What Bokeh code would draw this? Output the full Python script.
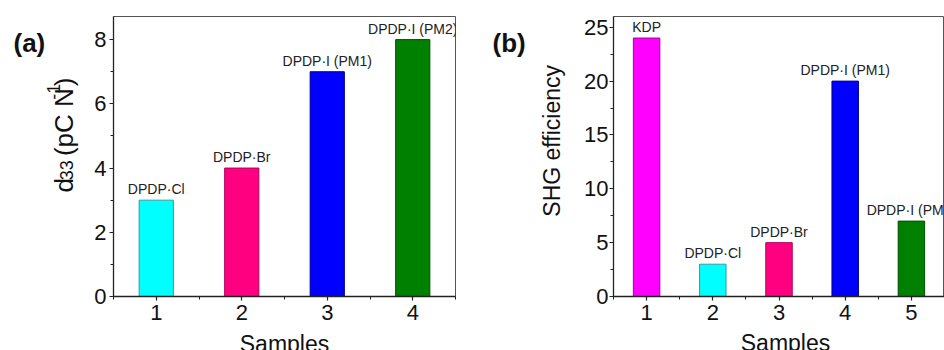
from math import pi

from bokeh.core.properties import value
from bokeh.embed import file_html
from bokeh.layouts import column, row
from bokeh.models import ColumnDataSource, FixedTicker, Label, Range1d
from bokeh.plotting import figure
from bokeh.resources import INLINE

# ---- data -------------------------------------------------------------
# (a) piezoelectric coefficient d33 of each sample
samples_a = [1, 2, 3, 4]
d33_values = [3, 4, 7, 8]
names_a = ["DPDP·Cl", "DPDP·Br", "DPDP·I (PM1)", "DPDP·I (PM2)"]

# (b) SHG efficiency, with KDP as the reference crystal
samples_b = [1, 2, 3, 4, 5]
shg_values = [24, 3, 5, 20, 7]
names_b = ["KDP", "DPDP·Cl", "DPDP·Br", "DPDP·I (PM1)", "DPDP·I (PM2)"]

x_ticks_a = [1, 2, 3, 4]
y_ticks_a = [0, 2, 4, 6, 8]
x_ticks_b = [1, 2, 3, 4, 5]
y_ticks_b = [0, 5, 10, 15, 20, 25]

# ---- styles -----------------------------------------------------------
FONT = "Liberation Sans"
INK = "#111111"
CYAN, PINK, BLUE, GREEN, MAGENTA = "#00FFFF", "#FF0080", "#0000FF", "#008000", "#FF00FF"
EDGE = {CYAN: "#2F9E9E", PINK: "#B0005C", BLUE: "#00008C", GREEN: "#004F00", MAGENTA: "#A000A0"}
fills_a = [CYAN, PINK, BLUE, GREEN]
fills_b = [MAGENTA, CYAN, PINK, BLUE, GREEN]

# rendered text sits a few pixels off the requested alphabetic baseline
BASELINE_FIX = 5          # horizontal text: drawn this much lower
VERTICAL_FIX = (11, 5)    # rotated text: drawn this much right / higher

# Liberation Sans advance widths (em) for the composed axis title
ADVANCE = {"d": 0.556, "3": 0.556, "\u00a0": 0.278, "(": 0.333, "p": 0.556,
           "C": 0.722, "N": 0.722, "-": 0.333, "1": 0.556, ")": 0.333}

ROW_H = 331
PAGE_W, PAGE_H = 944, 350


def make_panel(width, left, right, frame_h, xr, yr, x_ticks, y_ticks,
               x_minor, y_minor, y_standoff, x_standoff):
    p = figure(
        width=width, height=ROW_H,
        x_range=Range1d(*xr), y_range=Range1d(*yr),
        min_border_left=left, min_border_right=right,
        min_border_top=16, min_border_bottom=ROW_H - 16 - frame_h,
        output_backend="svg", toolbar_location=None,
        background_fill_color="white", border_fill_color="white",
    )
    p.grid.visible = False
    p.outline_line_color = "#555555"
    p.outline_line_width = 1

    p.xaxis.ticker = FixedTicker(ticks=x_ticks, minor_ticks=x_minor)
    p.yaxis.ticker = FixedTicker(ticks=y_ticks, minor_ticks=y_minor)
    for ax in (p.xaxis[0], p.yaxis[0]):
        ax.axis_line_color = "#222222"
        ax.axis_line_width = 1.3
        ax.major_tick_line_color = "#222222"
        ax.minor_tick_line_color = "#222222"
        ax.major_tick_line_width = 1.2
        ax.major_tick_in = 0
        ax.major_tick_out = 4
        ax.minor_tick_in = 0
        ax.minor_tick_out = 3
        ax.major_label_text_font = FONT
        ax.major_label_text_font_size = "22px"
        ax.major_label_text_color = INK
    p.yaxis.major_label_standoff = y_standoff
    p.xaxis.major_label_standoff = x_standoff
    return p


def add_bars(p, frame_h, xs, ys, names, fills, gap_px=6):
    per_px = (p.y_range.end - p.y_range.start) / frame_h
    lift = (gap_px + BASELINE_FIX) * per_px
    src = ColumnDataSource(dict(
        x=xs, top=ys, label_y=[v + lift for v in ys],
        name=names, fill=fills, edge=[EDGE[c] for c in fills],
    ))
    p.vbar(x="x", top="top", bottom=0, width=0.4, fill_color="fill",
           line_color="edge", line_width=1, source=src)
    p.text(x="x", y="label_y", text="name", text_align="center",
           text_baseline="alphabetic",
           text_font=value(FONT), text_font_size="14px", text_color="#222222",
           source=src)


def text_strip(width, height):
    """Axis-less canvas whose data units are its own pixels (y downward)."""
    s = figure(width=width, height=height,
               x_range=Range1d(0, width), y_range=Range1d(height, 0),
               min_border=0, x_axis_type=None, y_axis_type=None,
               output_backend="svg", toolbar_location=None,
               background_fill_color="white", border_fill_color="white")
    s.outline_line_color = None
    return s


def put(s, px, py, text, size, bold=False, vertical=False, align="left"):
    """Place text with its baseline at canvas pixel (px, py)."""
    if vertical:
        x, y, angle = px - VERTICAL_FIX[0], py + VERTICAL_FIX[1], pi / 2
    else:
        x, y, angle = px, py - BASELINE_FIX, 0.0
    s.add_layout(Label(
        x=x, y=y, text=text, angle=angle, angle_units="rad",
        text_align=align, text_baseline="alphabetic",
        text_font=FONT, text_font_size=f"{size}px", text_color=INK,
        text_font_style="bold" if bold else "normal",
    ))


# ---- panel (a) --------------------------------------------------------
strip_a = text_strip(80, ROW_H)
put(strip_a, 13, 36, "(a)", 26, bold=True)
# y title "d33 (pC N-1)" built from normal, subscript and superscript runs,
# reading bottom-to-top
runs = [("d", 26, 0), ("33", 18, 3), ("\u00a0(pC\u00a0N", 26, 0), ("-1", 18, -10), (")", 26, 0)]
run_y = 203
for txt, size, shift in runs:
    put(strip_a, 74 + shift, run_y, txt, size, vertical=True)
    run_y -= sum(ADVANCE[ch] for ch in txt) * size

pa = make_panel(390, 33, 15, 280, (0.5, 4.5), (0, 8.72), x_ticks_a, y_ticks_a,
                [0.5, 1.5, 2.5, 3.5, 4.5], [1, 3, 5, 7], 3, 4)
add_bars(pa, 280, samples_a, d33_values, names_a, fills_a)

# ---- panel (b) --------------------------------------------------------
strip_b = text_strip(105, ROW_H)
put(strip_b, 22, 36, "(b)", 26, bold=True)
put(strip_b, 92, 142, "SHG efficiency", 23, vertical=True, align="center")

pb = make_panel(369, 38, 0, 282, (0.5, 5.5), (0, 26), x_ticks_b, y_ticks_b,
                [0.5, 1.5, 2.5, 3.5, 4.5, 5.5],
                [2.5, 7.5, 12.5, 17.5, 22.5], 1, 4)
add_bars(pb, 282, samples_b, shg_values, names_b, fills_b)

# ---- x titles along the bottom ----------------------------------------
strip_x = text_strip(PAGE_W, PAGE_H - ROW_H)
put(strip_x, 284, 348 - ROW_H, "Samples", 23, align="center")
put(strip_x, 785, 347 - ROW_H, "Samples", 23, align="center")

layout = column(row(strip_a, pa, strip_b, pb, spacing=0), strip_x, spacing=0)
open("out.html", "w").write(file_html(layout, INLINE))
